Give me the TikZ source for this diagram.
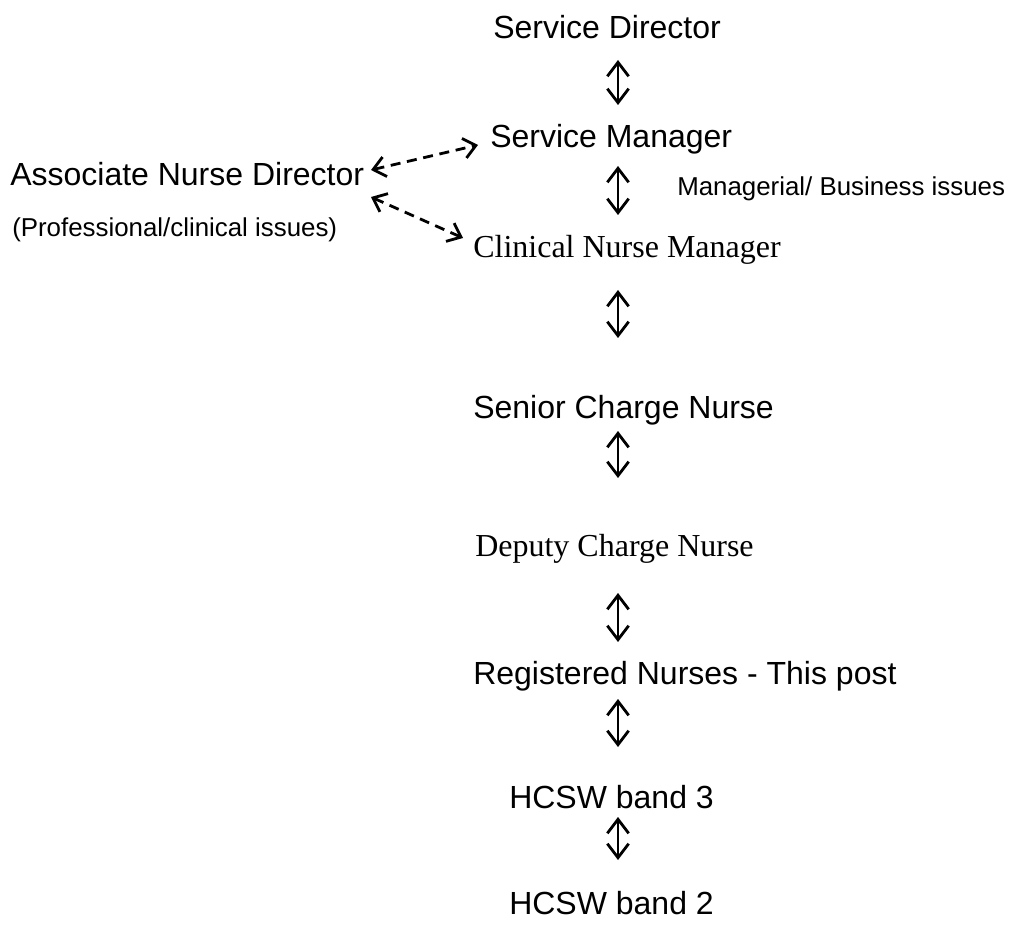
\documentclass[tikz,border=0pt]{standalone}
\usepackage{fontspec}
\setmainfont{Liberation Serif}
\newfontfamily\arialf{Liberation Sans}
\usetikzlibrary{arrows.meta}
\begin{document}
\begin{tikzpicture}[x=0.75pt,y=-0.75pt,
  lbl/.style={anchor=base west,inner sep=0pt,font=\arialf\fontsize{24}{28}\selectfont},
  lbls/.style={anchor=base west,inner sep=0pt,font=\arialf\fontsize{19.4}{24}\selectfont},
  lblt/.style={anchor=base west,inner sep=0pt,font=\fontsize{24}{28}\selectfont},
  vv/.style={line width=2.1pt,{Straight Barb[length=10.5pt,width=16pt]}-{Straight Barb[length=10.5pt,width=16pt]}},
  dd/.style={line width=2.1pt,dash pattern=on 7.5pt off 5pt,{Straight Barb[length=9pt,width=15pt]}-{Straight Barb[length=9pt,width=15pt]}}]
\useasboundingbox (0,0) rectangle (1014,941);

\node[lbl]  (sd)  at (493,39)  {Service Director};
\node[lbl]  (sm)  at (490,148) {Service Manager};
\node[lbl]  (and) at (10,186)  {Associate Nurse Director};
\node[lbls] (mbi) at (677,196) {Managerial/ Business issues};
\node[lbls] (pci) at (12,237)  {(Professional/clinical issues)};
\node[lblt] (cnm) at (473,258) {Clinical Nurse Manager};
\node[lbl]  (scn) at (473,418) {Senior Charge Nurse};
\node[lblt] (dcn) at (475,556) {Deputy Charge Nurse};
\node[lbl]  (rn)  at (473,684) {Registered Nurses - This post};
\node[lbl]  (h3)  at (509,808) {HCSW band 3};
\node[lbl]  (h2)  at (509,914) {HCSW band 2};

\coordinate (a1t) at (618,60);  \coordinate (a1b) at (618,105);
\coordinate (a2t) at (618,166); \coordinate (a2b) at (618,215);
\coordinate (a3t) at (618,290); \coordinate (a3b) at (618,338);
\coordinate (a4t) at (618,431); \coordinate (a4b) at (618,478);
\coordinate (a5t) at (618,593); \coordinate (a5b) at (618,642);
\coordinate (a6t) at (618,699); \coordinate (a6b) at (618,747);
\coordinate (a7t) at (618,817); \coordinate (a7b) at (618,860);

\draw[vv] (a1t) -- (a1b);
\draw[vv] (a2t) -- (a2b);
\draw[vv] (a3t) -- (a3b);
\draw[vv] (a4t) -- (a4b);
\draw[vv] (a5t) -- (a5b);
\draw[vv] (a6t) -- (a6b);
\draw[vv] (a7t) -- (a7b);

\coordinate (d1l) at (371,170); \coordinate (d1r) at (478,145);
\coordinate (d2l) at (371,197); \coordinate (d2r) at (463,238);
\draw[dd] (d1l) -- (d1r);
\draw[dd] (d2l) -- (d2r);
\end{tikzpicture}
\end{document}
